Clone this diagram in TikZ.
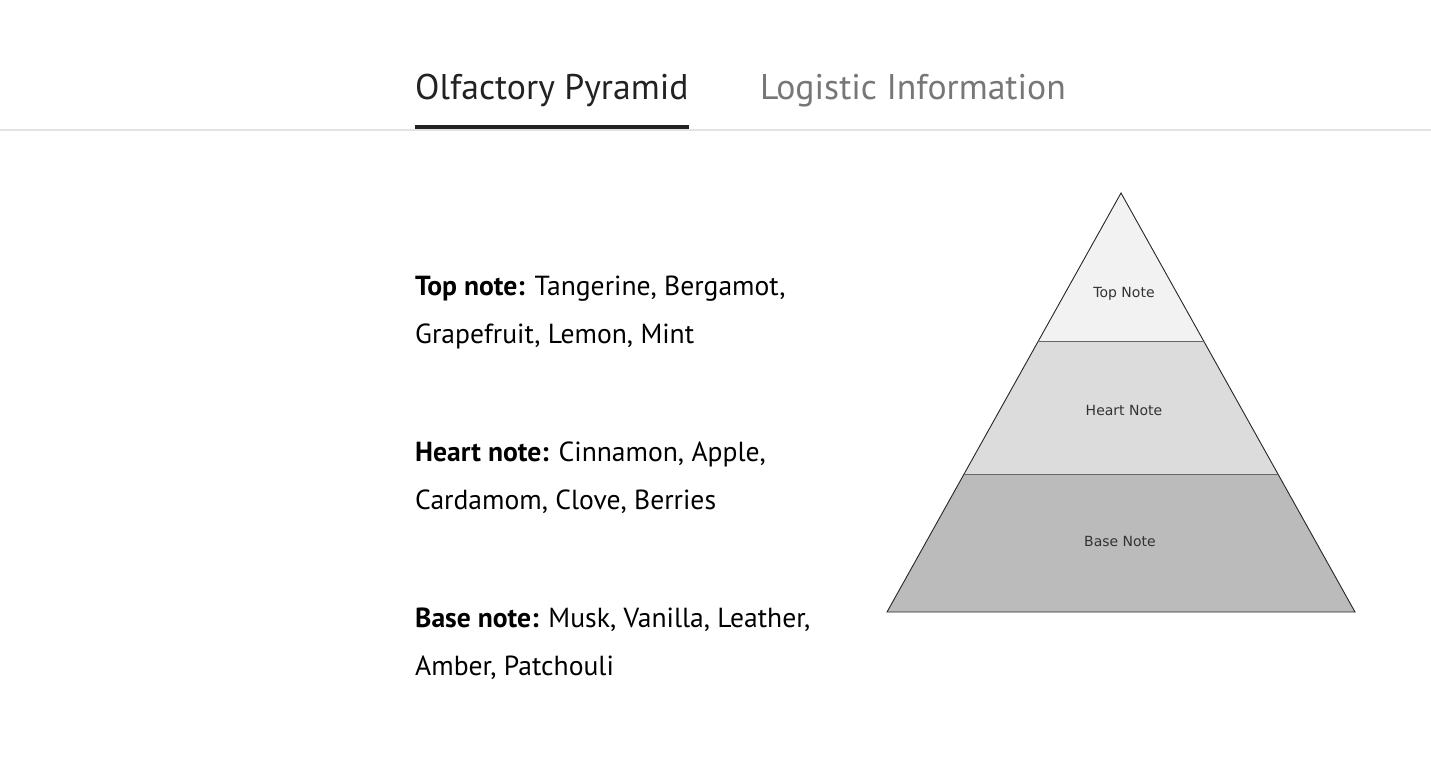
\documentclass[tikz,border=0pt]{standalone}
\usepackage{fontspec}
\setmainfont{PT Sans}
\newfontfamily\layerfont{DejaVu Sans}
\usepackage{tikz}
\usetikzlibrary{positioning}
\definecolor{tabdark}{HTML}{222222}
\definecolor{tabgrey}{HTML}{777777}
\definecolor{rulegrey}{HTML}{E3E3E3}
\definecolor{topfill}{HTML}{F2F2F2}
\definecolor{heartfill}{HTML}{DCDCDC}
\definecolor{basefill}{HTML}{BBBBBB}
\definecolor{labelgrey}{HTML}{333333}
\tikzstyle{tab}=[anchor=base west,inner sep=0pt,font=\fontsize{35.7}{40}\selectfont]
\tikzstyle{notes}=[anchor=base west,inner sep=0pt,align=left,text=black,font=\fontsize{27.6}{48}\selectfont]
\tikzstyle{layer}=[draw=black!85,line width=0.9pt]
\tikzstyle{layerlabel}=[font=\layerfont\fontsize{14}{16}\selectfont,text=labelgrey]

\begin{document}
\begin{tikzpicture}
	[x=1pt,y=-1pt]
	\useasboundingbox[fill=white] (0,0) rectangle (1431,757);
	% tabs
	\node (olf) [tab,text=tabdark] at (415,100) {Olfactory Pyramid};
	\node (logi) [tab,text=tabgrey,right=71pt of olf.base east,anchor=base west] {Logistic Information};
	\draw[rulegrey,line width=1.5pt] (0,130) -- (1431,130);
	\draw[tabdark,line width=4pt] (olf.west |- 0,127) -- (olf.east |- 0,127);
	% notes (anchored on the second line)
	\node (topt) [notes] at (415,343) {\textbf{Top note:} Tangerine, Bergamot,\\Grapefruit, Lemon, Mint};
	\node (heartt) [notes] at (415,509) {\textbf{Heart note:} Cinnamon, Apple,\\Cardamom, Clove, Berries};
	\node (baset) [notes] at (415,675) {\textbf{Base note:} Musk, Vanilla, Leather,\\Amber, Patchouli};
	% pyramid
	\coordinate (apex) at (1121,193);
	\coordinate (tl) at (1038.3,341);
	\coordinate (tr) at (1203.7,341);
	\coordinate (hl) at (964.1,474);
	\coordinate (hr) at (1277.9,474);
	\coordinate (bl) at (887,612);
	\coordinate (br) at (1355,612);
	\fill[topfill] (apex) -- (tl) -- (tr) -- cycle;
	\fill[heartfill] (tl) -- (hl) -- (hr) -- (tr) -- cycle;
	\fill[basefill] (hl) -- (bl) -- (br) -- (hr) -- cycle;
	\draw[layer] (apex) -- (bl) -- (br) -- cycle;
	\draw[layer,draw=black!60] (tl) -- (tr);
	\draw[layer,draw=black!60] (hl) -- (hr);
	\node (topn) [layerlabel] at (1124,294) {Top Note};
	\node (heartn) [layerlabel] at (1124,410) {Heart Note};
	\node (basen) [layerlabel] at (1120,541) {Base Note};
\end{tikzpicture}
\end{document}
